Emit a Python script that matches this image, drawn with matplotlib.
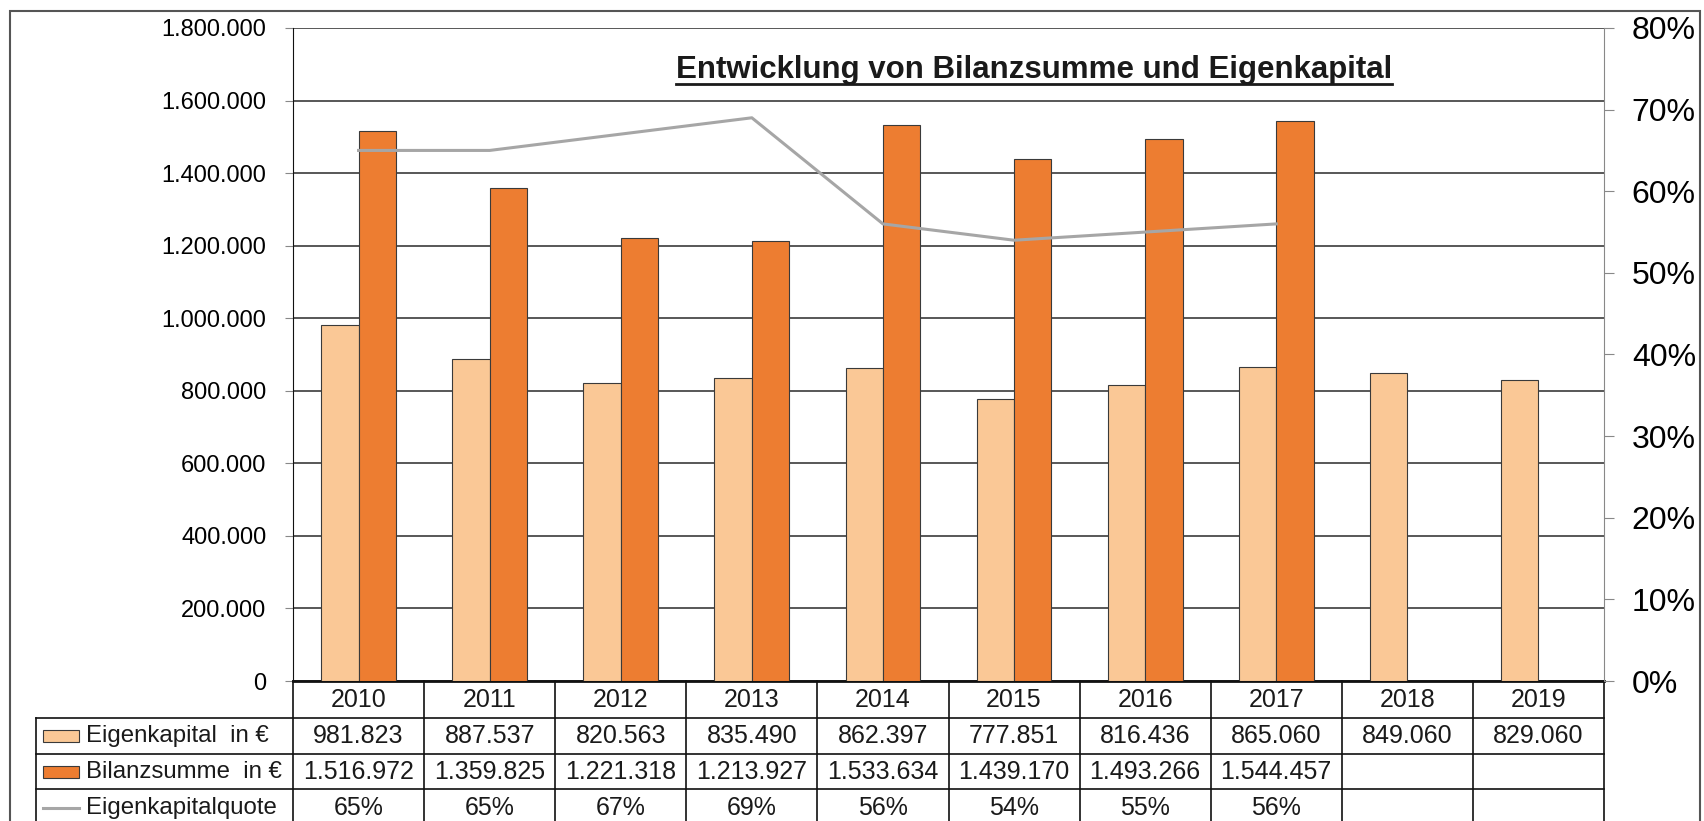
#!/usr/bin/env python3
"""Bilanzsumme und Eigenkapital 2010-2019 mit Datentabelle unter dem Diagramm."""
import numpy as np
import matplotlib.pyplot as plt
import matplotlib.transforms as mtransforms
from matplotlib.patches import Rectangle
from matplotlib.lines import Line2D

plt.rcParams['font.family'] = ['Liberation Sans', 'DejaVu Sans']

years = ['2010', '2011', '2012', '2013', '2014', '2015', '2016', '2017', '2018', '2019']
eigenkapital = [981823, 887537, 820563, 835490, 862397, 777851, 816436, 865060, 849060, 829060]
bilanzsumme = [1516972, 1359825, 1221318, 1213927, 1533634, 1439170, 1493266, 1544457]
quote = [65, 65, 67, 69, 56, 54, 55, 56]

row_labels = ['Eigenkapital  in €', 'Bilanzsumme  in €', 'Eigenkapitalquote']
c_ek = '#FAC896'
c_bs = '#ED7D31'
c_line = '#A6A6A6'


def fmt(v):
    return f'{v:,}'.replace(',', '.')


W, H = 1704, 821
fig = plt.figure(figsize=(W / 100, H / 100), dpi=100)
# plot area in pixels: x 293..1604, y 28..681
ax = fig.add_axes([293 / W, 1 - 681 / H, (1604 - 293) / W, (681 - 28) / H])

x = np.arange(len(years))
w = 0.285
ax.bar(x - w / 2, eigenkapital, w, color=c_ek, edgecolor='#3a3a3a', linewidth=0.8, zorder=3)
ax.bar(x[:len(bilanzsumme)] + w / 2, bilanzsumme, w, color=c_bs, edgecolor='#3a3a3a',
       linewidth=0.8, zorder=3)

ax.set_xlim(-0.5, len(years) - 0.5)
ax.set_ylim(0, 1800000)
yt = np.arange(0, 1800001, 200000)
ax.set_yticks(yt)
ax.set_yticklabels([fmt(v) for v in yt], fontsize=17)
ax.set_xticks([])
ax.yaxis.grid(True, color='#2a2a2a', linewidth=1.1)
ax.set_axisbelow(True)
ax.tick_params(axis='y', length=6, color='#888888', pad=13)
ax.spines['top'].set_visible(False)
ax.spines['right'].set_visible(False)
ax.spines['left'].set_color('#111111')
ax.spines['bottom'].set_color('#111111')
ax.spines['bottom'].set_linewidth(2)

ax2 = ax.twinx()
ax2.plot(x[:len(quote)], quote, color=c_line, linewidth=2.2, zorder=4)
ax2.set_ylim(0, 80)
pt = np.arange(0, 81, 10)
ax2.set_yticks(pt)
ax2.set_yticklabels([f'{v}%' for v in pt], fontsize=23)
ax2.tick_params(axis='y', length=7, color='#888888', pad=13)
for s in ['top', 'left', 'bottom']:
    ax2.spines[s].set_visible(False)
ax2.spines['right'].set_color('#888888')

ax.text(0.565, 0.935, 'Entwicklung von Bilanzsumme und Eigenkapital', transform=ax.transAxes,
        ha='center', va='center', fontsize=22.5, fontweight='bold', color='#1a1a1a')

# data table below the axis
trans = mtransforms.blended_transform_factory(ax.transData, ax.transAxes)
ph = 681 - 28


def ay(px):
    return (681 - px) / ph


rows = [681, 718, 754, 789, 826]
left = -2.46
right = len(years) - 0.5
lk = dict(color='#111111', linewidth=1.2, transform=trans, clip_on=False)
for r in rows[1:]:
    ax.plot([left, right], [ay(r), ay(r)], **lk)
for b in np.arange(-0.5, len(years)):
    ax.plot([b, b], [0, ay(rows[-1])], **lk)
ax.plot([left, left], [ay(rows[1]), ay(rows[-1])], **lk)

tk = dict(transform=trans, ha='center', va='center', fontsize=18, color='#1a1a1a', clip_on=False)
mid = [ay((rows[i] + rows[i + 1]) / 2) for i in range(4)]
for i, yr in enumerate(years):
    ax.text(i, mid[0], yr, **tk)
for i, v in enumerate(eigenkapital):
    ax.text(i, mid[1], fmt(v), **tk)
for i, v in enumerate(bilanzsumme):
    ax.text(i, mid[2], fmt(v), **tk)
for i, v in enumerate(quote):
    ax.text(i, mid[3], f'{v}%', **tk)

# legend keys in the label column
kx0, kx1 = -2.405, -2.13
kh = 12 / ph
for j, col in enumerate([c_ek, c_bs]):
    ax.add_patch(Rectangle((kx0, mid[j + 1] - kh / 2), kx1 - kx0, kh, facecolor=col,
                           edgecolor='#3a3a3a', linewidth=0.8, transform=trans, clip_on=False))
ax.plot([kx0, kx1], [mid[3], mid[3]], color=c_line, linewidth=2.2, transform=trans, clip_on=False)
for j, lab in enumerate(row_labels):
    ax.text(-2.08, mid[j + 1], lab, transform=trans, ha='left', va='center', fontsize=17.3,
            color='#1a1a1a', clip_on=False)

# outer frame
fig.add_artist(Rectangle((10 / W, -0.1), (1700 - 10) / W, 1.1 - 11 / H, fill=False,
                         edgecolor='#555555', linewidth=1.5, transform=fig.transFigure))

# underline the title
fig.canvas.draw()
title = ax.texts[0]
bb = title.get_window_extent()
fig.add_artist(Line2D([bb.x0 / W, bb.x1 / W], [(bb.y0 + 1) / H, (bb.y0 + 1) / H],
                      color='#1a1a1a', linewidth=2, transform=fig.transFigure))

fig.savefig('out.png', dpi=100)
